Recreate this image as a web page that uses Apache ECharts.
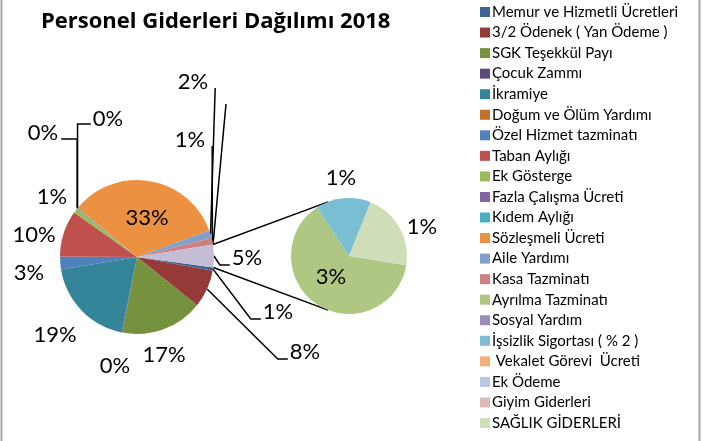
<!DOCTYPE html>
<html>
<head>
<meta charset="utf-8">
<title>Personel Giderleri Dağılımı 2018</title>
<script src="https://cdn.jsdelivr.net/npm/echarts@6/dist/echarts.min.js"></script>
<style>
html,body{margin:0;padding:0;background:#fff;}
#chart{width:703px;height:441px;}
</style>
</head>
<body>
<div id="chart"></div>
<script>
// kalemler (lejant sırası)
var categories = [
    'Memur ve Hizmetli Ücretleri',
    '3/2 Ödenek ( Yan Ödeme )',
    'SGK Teşekkül Payı',
    'Çocuk Zammı',
    'İkramiye',
    'Doğum ve Ölüm Yardımı',
    'Özel Hizmet tazminatı',
    'Taban Aylığı',
    'Ek Gösterge',
    'Fazla Çalışma Ücreti',
    'Kıdem Aylığı',
    'Sözleşmeli Ücreti',
    'Aile Yardımı',
    'Kasa Tazminatı',
    'Ayrılma Tazminatı',
    'Sosyal Yardım',
    'İşsizlik Sigortası ( % 2 )',
    ' Vekalet Görevi  Ücreti',
    'Ek Ödeme',
    'Giyim Giderleri',
    'SAĞLIK GİDERLERİ'
];
// pay (%)
var values = [0.7, 7.9, 17.3, 0.15, 19.2, 0, 2.7, 9.7, 1.0, 0.1, 0.15, 33.4, 1.6, 1.4, 3.0, 0, 0.73, 0, 0, 0, 1.02];
// ikinci pastaya giden kalemler
var secondNames = ['Ayrılma Tazminatı', 'İşsizlik Sigortası ( % 2 )', 'SAĞLIK GİDERLERİ'];
var otherName = 'Diğer';

var colors = ['#3B6494', '#953A38', '#77923E', '#5F4A7E', '#34849A', '#C2712D',
              '#4F81BD', '#C0504D', '#9BBB59', '#8064A2', '#4BACC6', '#EB9141',
              '#7F9FCD', '#CF7F7D', '#B0C783', '#9D8BBA', '#7ABED3', '#F8AD77',
              '#B7C7E2', '#E1B8B8', '#CFDDB9'];
var otherColor = '#C5BDD6';

var FONT = 'Lato';
var mainCenter = [137, 257], mainR = 77;
var secCenter = [349, 256], secR = 58;
var mainStart = -7.8, secStart = -9.2;

var grandTotal = 0;
values.forEach(function (v) { grandTotal += v; });
function pct(v) { return Math.round(v / grandTotal * 100) + '%'; }

// etiket yerleri: [x, y, çizgi tipi]
var labelSpots = {
    'Memur ve Hizmetli Ücretleri': [278, 312, 'right'],
    '3/2 Ödenek ( Yan Ödeme )': [305, 352, 'right'],
    'SGK Teşekkül Payı': [164, 355],
    'Çocuk Zammı': [115, 366],
    'İkramiye': [55, 335],
    'Özel Hizmet tazminatı': [29, 273],
    'Taban Aylığı': [34, 235],
    'Ek Gösterge': [52, 197],
    'Fazla Çalışma Ücreti': [43, 133, 'left'],
    'Kıdem Aylığı': [108, 119, 'down'],
    'Sözleşmeli Ücreti': [147, 218],
    'Aile Yardımı': [193, 82, 'up'],
    'Kasa Tazminatı': [190, 140, 'up'],
    'Giyim Giderleri': [226, 104, 'tip'],
    'Diğer': [247, 258, 'right'],
    'Ayrılma Tazminatı': [331, 277],
    'İşsizlik Sigortası ( % 2 )': [341, 178],
    'SAĞLIK GİDERLERİ': [422, 227]
};

/** pasta verileri **/
var mainData = [], secData = [], otherValue = 0;
categories.forEach(function (name, i) {
    var item = {
        name: name,
        value: values[i],
        itemStyle: { color: colors[i] },
        label: { show: !!labelSpots[name] },
        labelLine: { show: !!(labelSpots[name] && labelSpots[name][2]) }
    };
    if (secondNames.indexOf(name) >= 0) {
        secData.push(item);
        otherValue += values[i];
    } else {
        mainData.push(item);
    }
});
mainData.push({
    name: otherName,
    value: otherValue,
    itemStyle: { color: otherColor },
    label: { show: true },
    labelLine: { show: true }
});

function placeLabel(p) {
    var list = p.seriesIndex === 0 ? mainData : secData;
    var spot = labelSpots[list[p.dataIndex].name];
    if (!spot) return;
    var x = spot[0], y = spot[1], kind = spot[2];
    var w = p.labelRect.width;
    var res = { x: x, y: y, align: 'center', verticalAlign: 'middle' };
    var a = p.labelLinePoints ? p.labelLinePoints[0] : null;
    if (kind && a) {
        var L = x - w / 2, R = x + w / 2;
        if (kind === 'right') {
            res.labelLinePoints = [a, [L - 12, y + 7], [L - 2, y + 7]];
        } else if (kind === 'left') {
            res.labelLinePoints = [a, [a[0], y + 6], [R + 3, y + 6]];
        } else if (kind === 'down') {
            res.labelLinePoints = [a, [a[0], y + 5], [L - 2, y + 5]];
        } else if (kind === 'up') {
            res.labelLinePoints = [a, [R + 7, y + 6], [R + 7, y + 6]];
        } else if (kind === 'tip') {
            res.labelLinePoints = [a, [x, y], [x, y]];
        }
    }
    return res;
}

function labelFormat(p) {
    // boş değerli kalemin sadece çizgisi var
    return p.value > 0 ? pct(p.value) : ' ';
}

/** bağlantı çizgileri **/
var otherAngle = otherValue / grandTotal * 360;
function onCircle(c, r, deg) {
    var t = deg * Math.PI / 180;
    return [c[0] + r * Math.cos(t), c[1] - r * Math.sin(t)];
}
var p1 = onCircle(mainCenter, mainR, mainStart + otherAngle);
var p2 = onCircle(mainCenter, mainR, mainStart);
var q1 = onCircle(secCenter, secR, 111);
var q2 = onCircle(secCenter, secR, -111);

var labelText = { fontFamily: FONT, fontSize: 22, color: '#000' };

var option = {
    animation: false,
    title: {
        text: 'Personel Giderleri Dağılımı 2018',
        left: 36,
        top: 6,
        textStyle: { fontFamily: 'Open Sans', fontSize: 22, fontWeight: 'bold', color: '#000' }
    },
    legend: {
        orient: 'vertical',
        left: 480,
        top: 4,
        padding: 0,
        icon: 'rect',
        itemWidth: 10,
        itemHeight: 10,
        itemGap: 4.55,
        data: categories,
        textStyle: { fontFamily: FONT, fontSize: 15, lineHeight: 16, color: '#000', padding: [0, 0, 0, -3] }
    },
    graphic: [
        { type: 'line', shape: { x1: p1[0], y1: p1[1], x2: q1[0], y2: q1[1] }, style: { stroke: '#000', lineWidth: 1.5 } },
        { type: 'line', shape: { x1: p2[0], y1: p2[1], x2: q2[0], y2: q2[1] }, style: { stroke: '#000', lineWidth: 1.5 } },
        { type: 'line', shape: { x1: 1.5, y1: 0, x2: 1.5, y2: 441 }, style: { stroke: '#A6A6A6', lineWidth: 2 } },
        { type: 'line', shape: { x1: 699.5, y1: 0, x2: 699.5, y2: 441 }, style: { stroke: '#A6A6A6', lineWidth: 2 } }
    ],
    series: [
        {
            name: 'Personel Giderleri',
            type: 'pie',
            center: mainCenter,
            radius: mainR,
            startAngle: mainStart,
            avoidLabelOverlap: false,
            label: {
                position: 'outside',
                formatter: labelFormat,
                textStyle: labelText
            },
            labelLine: { lineStyle: { color: '#000', width: 1.5 }, length: 10, length2: 10 },
            labelLayout: placeLabel,
            emphasis: { disabled: true },
            data: mainData
        },
        {
            name: otherName,
            type: 'pie',
            center: secCenter,
            radius: secR,
            startAngle: secStart,
            avoidLabelOverlap: false,
            label: {
                position: 'outside',
                formatter: labelFormat,
                textStyle: labelText
            },
            labelLine: { show: false },
            labelLayout: placeLabel,
            emphasis: { disabled: true },
            data: secData
        }
    ]
};

var myEcharts = echarts.init(document.getElementById('chart'));
myEcharts.setOption(option);
</script>
</body>
</html>
